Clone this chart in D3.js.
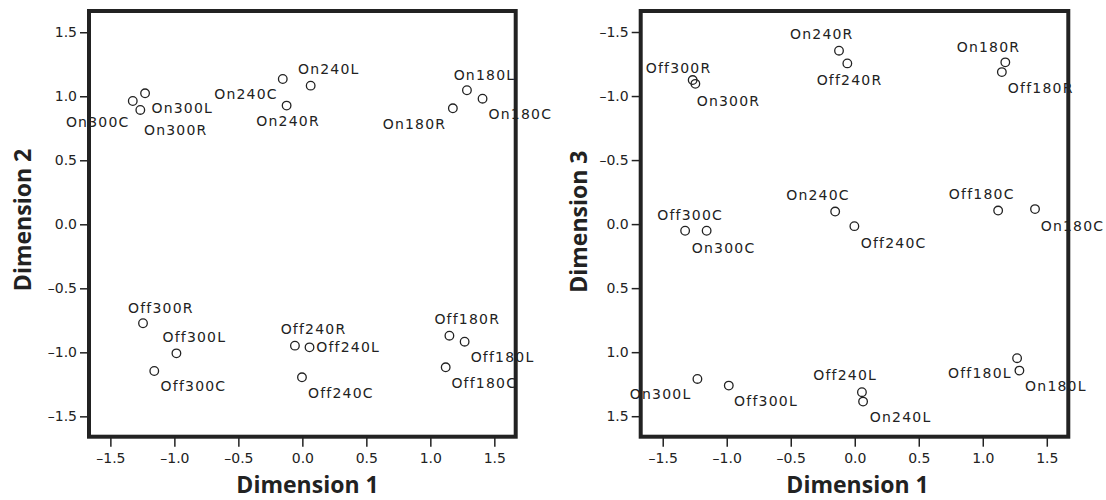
<!DOCTYPE html>
<html><head><meta charset="utf-8">
<script src="https://cdn.jsdelivr.net/npm/d3@7"></script>
<style>body{margin:0;background:#fff}</style>
</head><body><svg id="c" width="1106" height="500"></svg>
<script>
// ---- data ----
const names = ["On300C","On300R","On300L","On240C","On240L","On240R","On180L","On180C","On180R",
               "Off300R","Off300L","Off300C","Off240R","Off240L","Off240C","Off180R","Off180L","Off180C"];
const dim1 = [-1.325,-1.266,-1.229,-0.153,0.065,-0.123,1.286,1.408,1.176,
              -1.245,-0.984,-1.157,-0.058,0.056,-0.003,1.149,1.268,1.120];
const dim2 = [0.963,0.893,1.023,1.135,1.083,0.927,1.047,0.981,0.906,
              -0.773,-1.008,-1.146,-0.948,-0.961,-1.195,-0.870,-0.917,-1.117];
const dim3 = [0.052,-1.125,1.209,-0.098,1.386,-1.354,1.144,-0.117,-1.263,
              -1.095,1.261,0.052,-1.255,1.3125,0.016,-1.187,1.047,-0.106];
const tickValues = [-1.5,-1.0,-0.5,0.0,0.5,1.0,1.5];
const axisTitles = ["Dimension 1","Dimension 2","Dimension 3"];

// label placement (dx, dy from point, anchor) - layout only
const labelPosLeft = [
  [-3.3,26.3,"end"],[3.6,25,"start"],[6.4,20,"start"],[-5,20,"end"],[-12.7,-11.7,"start"],
  [-30.3,20.3,"start"],[-13.3,-10.3,"start"],[6,20.3,"start"],[-6.6,21,"end"],
  [-15,-10.6,"start"],[-14,-11.6,"start"],[6.3,19.7,"start"],[-14.3,-11.4,"start"],
  [6.7,5,"start"],[6,20.4,"start"],[-15,-11.7,"start"],[6,20,"start"],[5.7,20.4,"start"]];
const labelPosRight = [
  [6.7,22,"start"],[4,25.7,"start"],[-6,20.3,"end"],[-49,-11.7,"start"],[6.7,20.6,"start"],
  [-49,-11.7,"start"],[5.7,20.3,"start"],[5.7,21.4,"start"],[-48.6,-10,"start"],
  [-49.7,-10.7,"start"],[5.3,20,"start"],[-49.4,-10.3,"start"],[-30.7,21.3,"start"],
  [-48.7,-12.3,"start"],[6.4,22,"start"],[6,21,"start"],[-5.3,20,"end"],[-49.3,-11.7,"start"]];

const svg = d3.select("#c");
const ink = "#222";
const fmt = v => d3.format(".1f")(v).replace("\u2212","\u2013");

const panels = [
  {xr:[89,515.7], yr:[11,436.7], xd:[-1.667,1.667], yd:[1.666,-1.659], ys:dim2, lab:labelPosLeft,
   xt:axisTitles[0], yt:axisTitles[1], xtX:307.5, ytX:31, ytY:220},
  {xr:[640.7,1068.3], yr:[11,436.7], xd:[-1.672,1.668], yd:[-1.664,1.66], ys:dim3, lab:labelPosRight,
   xt:axisTitles[0], yt:axisTitles[2], xtX:857.5, ytX:587, ytY:221.7}
];

panels.forEach(p => {
  const x = d3.scaleLinear().domain(p.xd).range(p.xr);
  const y = d3.scaleLinear().domain(p.yd).range(p.yr);
  const g = svg.append("g");
  const idx = d3.range(names.length);

  g.selectAll("circle.pt").data(idx).join("circle")
    .attr("cx", i => x(dim1[i])).attr("cy", i => y(p.ys[i])).attr("r", 4.3)
    .attr("fill", "none").attr("stroke", ink).attr("stroke-width", 1.3);

  g.selectAll("text.lbl").data(idx).join("text")
    .attr("x", i => x(dim1[i]) + p.lab[i][0])
    .attr("y", i => y(p.ys[i]) + p.lab[i][1])
    .attr("text-anchor", i => p.lab[i][2])
    .attr("font-family", "DejaVu Sans").attr("font-size", 14)
    .attr("letter-spacing", "1.2px").attr("fill", ink)
    .text(i => names[i]);

  // frame
  g.append("rect").attr("x", p.xr[0]).attr("y", p.yr[0])
    .attr("width", p.xr[1]-p.xr[0]).attr("height", p.yr[1]-p.yr[0])
    .attr("fill", "none").attr("stroke", ink).attr("stroke-width", 4);

  const ya = g.append("g").attr("transform", `translate(${p.xr[0]},0)`)
    .call(d3.axisLeft(y).tickValues(tickValues).tickSize(9).tickPadding(3).tickFormat(fmt));
  const xa = g.append("g").attr("transform", `translate(0,${p.yr[1]})`)
    .call(d3.axisBottom(x).tickValues(tickValues).tickSize(10).tickPadding(6).tickFormat(fmt));
  [ya, xa].forEach(a => {
    a.select(".domain").remove();
    a.attr("font-family", "DejaVu Sans").attr("font-size", 14);
    a.selectAll("line").attr("stroke", ink).attr("stroke-width", 1.5);
    a.selectAll("text").attr("fill", ink);
  });

  g.append("text").attr("x", p.xtX).attr("y", 493).attr("text-anchor", "middle")
    .attr("font-family", "Open Sans").attr("font-weight", "bold").attr("font-size", 23)
    .attr("fill", ink).text(p.xt);
  g.append("text").attr("transform", `translate(${p.ytX},${p.ytY}) rotate(-90)`)
    .attr("text-anchor", "middle")
    .attr("font-family", "Open Sans").attr("font-weight", "bold").attr("font-size", 23)
    .attr("fill", ink).text(p.yt);
});
</script>
</body></html>
